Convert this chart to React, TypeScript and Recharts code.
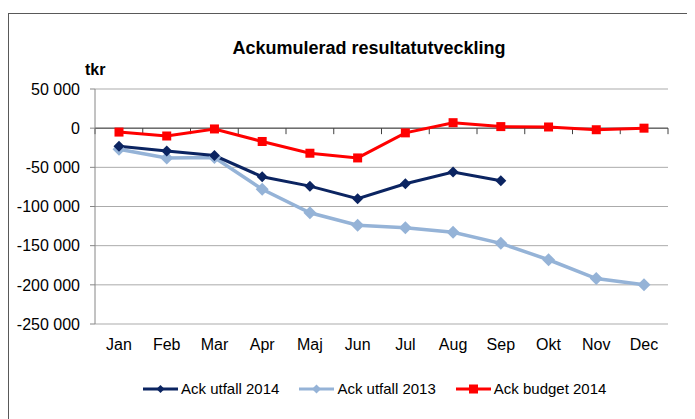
import React from "react";
import {
  LineChart,
  Line,
  XAxis,
  YAxis,
  CartesianGrid,
  Legend,
  ReferenceLine,
} from "recharts";

const months = ["Jan", "Feb", "Mar", "Apr", "Maj", "Jun", "Jul", "Aug", "Sep", "Okt", "Nov", "Dec"];
const utfall2014 = [-23000, -29000, -35000, -62000, -74000, -90000, -71000, -56000, -67000, null, null, null];
const utfall2013 = [-27000, -38000, -37500, -78000, -108000, -124000, -127000, -133000, -147000, -168000, -192000, -200000];
const budget2014 = [-5000, -10000, -1000, -17000, -32000, -38000, -6000, 7000, 2000, 1500, -2000, 0];
const yTicks = [50000, 0, -50000, -100000, -150000, -200000, -250000];

const FONT = "'Liberation Sans', Arial, sans-serif";
const NAVY = "#0B2461";
const LIGHT = "#95B3D7";
const RED = "#FF0000";

const data = months.map((m, i) => ({
  month: m,
  utfall2014: utfall2014[i],
  utfall2013: utfall2013[i],
  budget2014: budget2014[i],
}));

function formatTkr(v: number): string {
  const s = String(Math.abs(v)).replace(/\B(?=(\d{3})+(?!\d))/g, " ");
  return v < 0 ? "-" + s : s;
}

function diamondDot(r: number, color: string) {
  return (props: any) => {
    const { cx, cy, index } = props;
    if (cx == null || cy == null) return <g key={index} />;
    return (
      <polygon
        key={index}
        points={`${cx},${cy - r} ${cx + r},${cy} ${cx},${cy + r} ${cx - r},${cy}`}
        fill={color}
      />
    );
  };
}

function squareDot(s: number, color: string) {
  return (props: any) => {
    const { cx, cy, index } = props;
    if (cx == null || cy == null) return <g key={index} />;
    return <rect key={index} x={cx - s / 2} y={cy - s / 2} width={s} height={s} fill={color} />;
  };
}

// horizontal axis drawn at zero, tick marks between categories
function ZeroAxis(props: any) {
  const { x1, y1, x2, y2 } = props;
  const n = months.length;
  const step = (x2 - x1) / n;
  return (
    <g>
      <line x1={x1} y1={y1} x2={x2} y2={y2} stroke="#404040" strokeWidth={1} />
      {Array.from({ length: n + 1 }, (_, i) => (
        <line
          key={i}
          x1={x1 + i * step}
          x2={x1 + i * step}
          y1={y1}
          y2={y1 + 6}
          stroke="#404040"
          strokeWidth={1}
        />
      ))}
    </g>
  );
}

const legendItems = [
  { label: "Ack utfall 2014", color: NAVY, kind: "diamond", r: 4 },
  { label: "Ack utfall 2013", color: LIGHT, kind: "diamond", r: 4.5 },
  { label: "Ack budget 2014", color: RED, kind: "square", r: 4 },
];

function LegendContent() {
  return (
    <div
      style={{
        display: "flex",
        alignItems: "center",
        paddingLeft: 134,
        fontFamily: FONT,
        fontSize: 15,
        color: "#000",
        lineHeight: "18px",
      }}
    >
      {legendItems.map((it) => (
        <div key={it.label} style={{ display: "flex", alignItems: "center", marginRight: 20 }}>
          <svg width={35} height={14} style={{ marginRight: 3 }}>
            <line x1={0} y1={7} x2={35} y2={7} stroke={it.color} strokeWidth={3} />
            {it.kind === "diamond" ? (
              <polygon
                points={`17.5,${7 - it.r} ${17.5 + it.r},7 17.5,${7 + it.r} ${17.5 - it.r},7`}
                fill={it.color}
              />
            ) : (
              <rect x={13} y={2.5} width={9} height={9} fill={it.color} />
            )}
          </svg>
          <span>{it.label}</span>
        </div>
      ))}
    </div>
  );
}

export default function App() {
  return (
    <div
      style={{
        position: "relative",
        marginTop: 5,
        width: 684,
        height: 405,
        border: "1px solid #595959",
        borderBottom: "none",
        fontFamily: FONT,
      }}
    >
      <div
        style={{
          position: "absolute",
          left: 0,
          width: 720,
          top: 24,
          textAlign: "center",
          fontWeight: "bold",
          fontSize: 18,
          lineHeight: "20px",
          zIndex: 1,
        }}
      >
        Ackumulerad resultatutveckling
      </div>
      <div
        style={{
          position: "absolute",
          left: 76,
          top: 47,
          fontWeight: "bold",
          fontSize: 16,
          lineHeight: "18px",
          zIndex: 1,
        }}
      >
        tkr
      </div>
      <LineChart
        width={684}
        height={405}
        data={data}
        margin={{ top: 75, right: 25, bottom: 65, left: 0 }}
      >
        <CartesianGrid horizontal vertical={false} stroke="#ABABAB" strokeWidth={1} />
        <XAxis
          dataKey="month"
          axisLine={false}
          tickLine={false}
          tickSize={0}
          tickMargin={15}
          interval={0}
          padding={{ left: 24, right: 24 }}
          tick={{ fontSize: 16, fill: "#000", fontFamily: FONT }}
        />
        <YAxis
          type="number"
          domain={[-250000, 50000]}
          ticks={yTicks}
          interval={0}
          width={86}
          tickFormatter={formatTkr}
          axisLine={{ stroke: "#868686" }}
          tickLine={{ stroke: "#868686" }}
          tickSize={5}
          tickMargin={10}
          tick={{ fontSize: 16, fill: "#000", fontFamily: FONT }}
        />
        <ReferenceLine y={0} shape={ZeroAxis} />
        <Legend
          layout="horizontal"
          verticalAlign="middle"
          align="center"
          content={LegendContent}
          wrapperStyle={{ top: 366, left: 0, width: 684 }}
        />
        <Line
          dataKey="utfall2013"
          stroke={LIGHT}
          strokeWidth={3.5}
          dot={diamondDot(6.5, LIGHT)}
          isAnimationActive={false}
        />
        <Line
          dataKey="utfall2014"
          stroke={NAVY}
          strokeWidth={3}
          dot={diamondDot(5.5, NAVY)}
          isAnimationActive={false}
        />
        <Line
          dataKey="budget2014"
          stroke={RED}
          strokeWidth={3}
          dot={squareDot(9, RED)}
          isAnimationActive={false}
        />
      </LineChart>
    </div>
  );
}
